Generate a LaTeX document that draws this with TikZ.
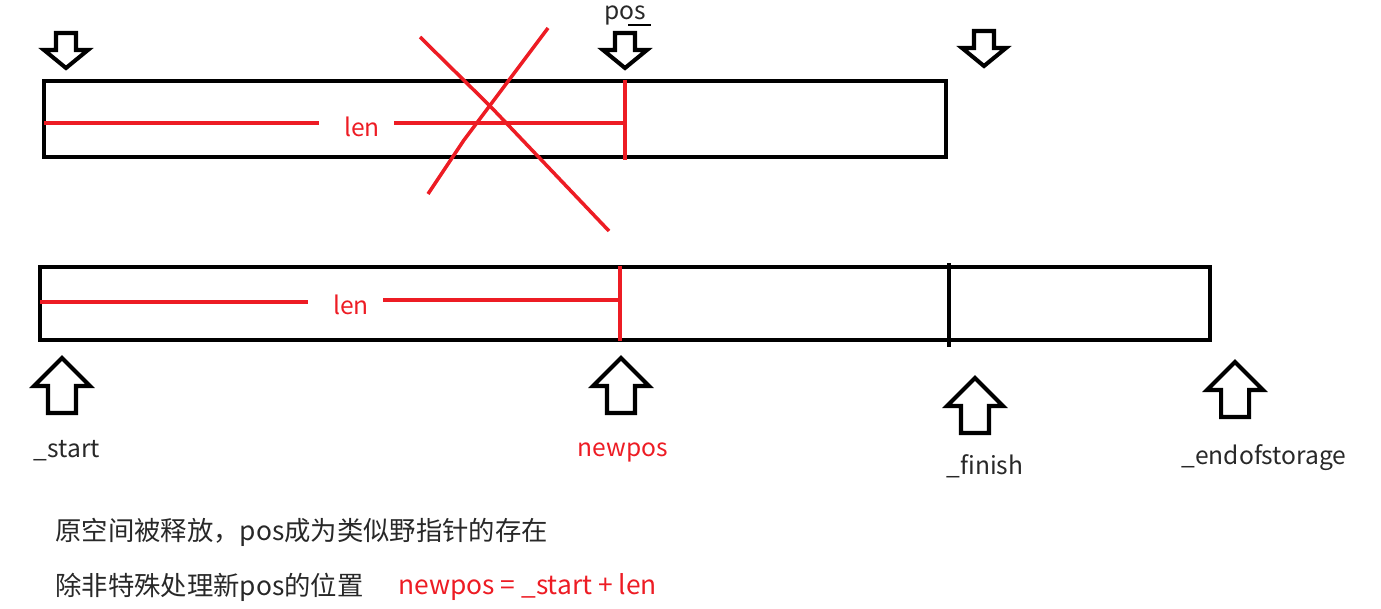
\documentclass[tikz,border=0pt]{standalone}
\usepackage{fontspec}
\setmainfont{Noto Sans CJK SC}
\definecolor{markred}{RGB}{237,28,36}
\definecolor{inkgray}{RGB}{40,40,40}
\begin{document}
\begin{tikzpicture}[
    x=0.02cm,
    y=-0.02cm,
    font=\fontsize{14}{16}\selectfont,
    buffer/.style={draw, line width=2.3pt},
    redline/.style={draw=markred, line width=2.3pt},
    hollow/.style={draw, line width=2.3pt, fill=white, line join=miter},
    tag/.style={inner sep=0pt, text=inkgray},
    note/.style={inner sep=0pt, anchor=west, text=inkgray, font=\fontsize{15}{18}\selectfont}
]
\useasboundingbox (0,0) rectangle (1381,608);

% old storage
\draw[buffer] (44,81) rectangle (946,157);
\draw[redline] (625,80) -- (625,160);
\node[tag, text=markred] (lenold) at (362,127) {len};
\draw[redline] (44,123) -- ([xshift=-0.5cm]lenold.west |- 0,123);
\draw[redline] ([xshift=0.28cm]lenold.east |- 0,123) -- (625,123);

% pointers into the old storage
\foreach \cx/\ty in {66/33, 625/33, 984/31} {
    \draw[hollow] ({\cx-10},\ty) -- ({\cx+10},\ty) -- ({\cx+10},{\ty+17})
        -- ({\cx+22},{\ty+17}) -- (\cx,{\ty+35}) -- ({\cx-22},{\ty+17})
        -- ({\cx-10},{\ty+17}) -- cycle;
}
\node[tag, anchor=base] (pos) at (625,20) {pos};
\draw[line width=0.6pt] (628,25) -- (651,25);

% crossed out
\draw[redline, line width=2pt] (420,37) -- (491,107) -- (609,231);
\draw[redline, line width=2pt] (548,28) -- (464,140) -- (428,194);

% new storage
\draw[buffer] (40,267) rectangle (1210,340);
\draw[line width=1.8pt] (949,263) -- (949,347);
\draw[redline] (620,266) -- (620,341);
\node[tag, text=markred] (lennew) at (351,305) {len};
\draw[redline] (40,302) -- ([xshift=-0.5cm]lennew.west |- 0,302);
\draw[redline] ([xshift=0.28cm]lennew.east |- 0,300) -- (618,300);

% pointers into the new storage
\foreach \cx/\ty in {62/358, 621/358, 975/378, 1235/362} {
    \draw[hollow] (\cx,\ty) -- ({\cx+28},{\ty+28}) -- ({\cx+14},{\ty+28})
        -- ({\cx+14},{\ty+55}) -- ({\cx-14},{\ty+55}) -- ({\cx-14},{\ty+28})
        -- ({\cx-28},{\ty+28}) -- cycle;
}
\node[tag] (start) at (67,451) {\_start};
\node[tag, text=markred] (newpos) at (623,452) {newpos};
\node[tag] (finish) at (985,466) {\_finish};
\node[tag] (endofstorage) at (1264,458) {\_endofstorage};

% remarks
\node[note] (freed) at (55,532) {原空间被释放，pos成为类似野指针的存在};
\node[note] (unless) at (55,587) {除非特殊处理新pos的位置};
\node[note, text=markred] (formula) at (398,587) {newpos = \_start + len};
\end{tikzpicture}
\end{document}
